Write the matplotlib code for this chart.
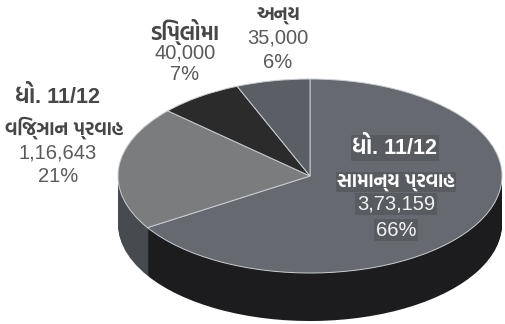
import matplotlib
matplotlib.use("Agg")
import matplotlib.pyplot as plt
from matplotlib import font_manager
import numpy as np

# ---------------- data ----------------
categories = ["ધો. 11/12\nસામાન્ય પ્રવાહ", "ધો. 11/12\nવિજ્ઞાન પ્રવાહ", "ડિપ્લોમા", "અન્ય"]
values = [373159, 116643, 40000, 35000]
value_labels = ["3,73,159", "1,16,643", "40,000", "35,000"]
pct_labels = ["66%", "21%", "7%", "6%"]

top_colors = ["#666a70", "#7b7c7d", "#2b2b2b", "#5b5f65"]
side_colors = ["#1c1c1e", "#474a4f", "#1a1a1a", "#2e3034"]

# ---------------- fonts ----------------
def find_gujarati_font():
    try:
        from fontTools.ttLib import TTFont
    except Exception:
        return None
    best = None
    for f in font_manager.fontManager.ttflist:
        try:
            tt = TTFont(f.fname, fontNumber=0, lazy=True)
            cmap = tt.getBestCmap()
            if cmap and 0x0A97 in cmap and 0x0AAA in cmap:
                if f.weight in ("bold", 700) or (isinstance(f.weight, int) and f.weight >= 600):
                    return f.name
                best = best or f.name
        except Exception:
            continue
    return best

guj = find_gujarati_font()
fam = ["Liberation Sans"] + ([guj] if guj else []) + ["DejaVu Sans"]
num_fam = ["Liberation Sans", "DejaVu Sans"]

W, H = 506, 324
fig = plt.figure(figsize=(W / 100, H / 100), dpi=100)
ax = fig.add_axes([0, 0, 1, 1])

# ellipse geometry (pixels)
cx, cy = 310, 176      # centre of top face (pixel coords, y down)
rx, ry = 192, 97       # semi axes
depth = 48
k = rx / ry            # y-units per pixel

def py(y):  # pixel y (down) -> data y
    return (H - y) * k

# side layers
for d in range(depth, 0, -1):
    ax.pie(values, colors=side_colors, startangle=90, counterclock=False,
           radius=rx, center=(cx, py(cy + d)), frame=True,
           wedgeprops=dict(linewidth=0, antialiased=True))
# top face
ax.pie(values, colors=top_colors, startangle=90, counterclock=False,
       radius=rx, center=(cx, py(cy)), frame=True,
       wedgeprops=dict(linewidth=0.7, edgecolor="#c9ced3"))
ax.set_aspect("auto")
ax.set_xlim(0, W)
ax.set_ylim(0, H * k)
ax.axis("off")

def T(x, y, s, **kw):
    fig.text(x / W, 1 - y / H, s, ha="center", va="center", **kw)

gcol = "#474747"
ncol = "#5a5a5a"
nsize = 14.5

# Diploma
T(185, 32, categories[2], family=fam, fontsize=15, fontweight="bold", color=gcol)
T(185, 53, value_labels[2], family=num_fam, fontsize=nsize, color=ncol)
T(185, 74, pct_labels[2], family=num_fam, fontsize=nsize, color=ncol)
# Anya
T(278, 16, categories[3], family=fam, fontsize=13.5, fontweight="bold", color=gcol)
T(278, 38, value_labels[3], family=num_fam, fontsize=nsize, color=ncol)
T(278, 62, pct_labels[3], family=num_fam, fontsize=nsize, color=ncol)
# Vigyan
l1, l2 = categories[1].split("\n")
T(58, 97, l1, family=fam, fontsize=15.5, fontweight="bold", color=gcol)
T(64, 128, l2, family=fam, fontsize=13.5, fontweight="bold", color=gcol)
T(58, 153, value_labels[1], family=num_fam, fontsize=nsize, color=ncol)
T(58, 177, pct_labels[1], family=num_fam, fontsize=nsize, color=ncol)
# Samanya
l1, l2 = categories[0].split("\n")
bb = dict(boxstyle="square,pad=0.08", facecolor="#585c61", edgecolor="none")
T(395, 148, l1, family=fam, fontsize=15.5, fontweight="bold", color="white", bbox=bb)
T(396, 182, l2, family=fam, fontsize=13.5, fontweight="bold", color="white", bbox=bb)
T(396, 204, value_labels[0], family=num_fam, fontsize=nsize, color="#f2f2f2", bbox=bb)
T(396, 230, pct_labels[0], family=num_fam, fontsize=nsize, color="#f2f2f2", bbox=bb)

fig.savefig("out.png", dpi=100, facecolor="white")
